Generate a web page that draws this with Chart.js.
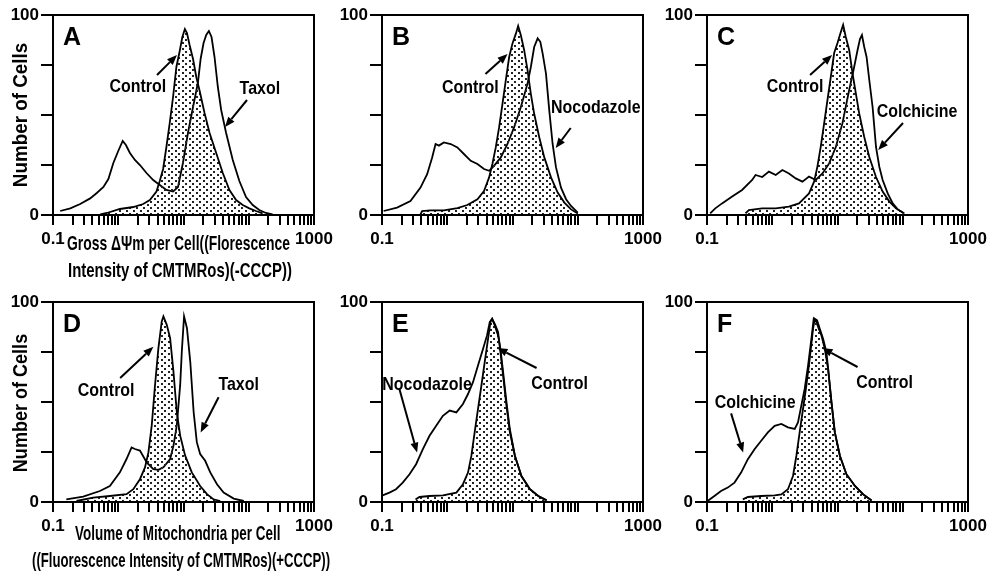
<!DOCTYPE html>
<html>
<head>
<meta charset="utf-8">
<script src="https://cdn.jsdelivr.net/npm/chart.js@4.4.1/dist/chart.umd.min.js"></script>
<style>
  body { margin: 0; background: #fff; }
  #wrap { position: relative; width: 987px; height: 578px; overflow: hidden; background: #fff; }
  canvas { position: absolute; }
  .ttl, .vttl {
    position: absolute; z-index: 2; color: #000; white-space: nowrap;
    font-family: "Liberation Sans Narrow", "Liberation Sans", Arial, sans-serif;
    font-weight: bold;
  }
  .ttl { font-size: 21px; line-height: 21px; transform-origin: 0 0; }
  .vttl { font-size: 20px; line-height: 20px; transform-origin: 50% 50%; }
</style>
</head>
<body>
<div id="wrap">
  <div class="vttl" data-cx="20" data-cy="115" data-w="144">Number of Cells</div>
  <div class="vttl" data-cx="20" data-cy="403" data-w="138">Number of Cells</div>
  <div class="ttl" data-x="67" data-y="232" data-w="223">Gross ΔΨm per Cell((Florescence</div>
  <div class="ttl" data-x="68" data-y="259" data-w="224">Intensity of CMTMRos)(-CCCP))</div>
  <div class="ttl" data-x="75" data-y="522" data-w="205">Volume of Mitochondria per Cell</div>
  <div class="ttl" data-x="32" data-y="549" data-w="298">((Fluorescence Intensity of CMTMRos)(+CCCP))</div>
</div>
<script>
const FONT = '"Liberation Sans", Arial, sans-serif';

const xTickValues = [0.1, 0.2, 0.3, 0.4, 0.5, 0.6, 0.7, 0.8, 0.9,
  1, 2, 3, 4, 5, 6, 7, 8, 9,
  10, 20, 30, 40, 50, 60, 70, 80, 90,
  100, 200, 300, 400, 500, 600, 700, 800, 900, 1000];
const xLabelValues = [0.1, 1000];
const xLabelText = ['0.1', '1000'];
const yTickValues = [0, 25, 50, 75, 100];
const yLabelValues = [0, 100];
const yLabelText = ['0', '100'];

// [fluorescence intensity, number of cells]
const controlA = [[0.53,0.3],[0.67,1],[1.06,3],[1.7,4],[2.41,5.5],[3.05,7.5],[3.85,11.7],[4.33,17],[4.87,23],[5.47,34],[6.15,46],[6.92,59],[7.78,74],[8.75,82],[9.6,89],[10.5,93],[11.3,91],[12.4,85],[14,78],[15.7,69],[17.7,62],[21,51],[25.1,41],[31.7,31],[40,21],[50.6,12.5],[64,7.5],[80.8,5],[102,3.3],[129,2],[163,0.8]];
const taxolA = [[0.129,2],[0.184,3.3],[0.261,5.5],[0.371,8.3],[0.469,11],[0.593,14],[0.706,18],[0.841,26],[1,32],[1.17,37],[1.31,35],[1.51,31],[1.8,27.5],[2.15,25],[2.71,21],[3.43,17.5],[4.33,15],[5.47,12.5],[6.92,11.7],[8.24,14],[9.8,26],[11.7,41],[14,54],[16.6,66],[18.3,78],[20.3,86],[22.3,90],[24.5,92],[26.9,89],[29.9,79],[33.6,64],[37.8,52.5],[45,41],[56.9,27.5],[71.8,17],[90.8,9],[115,5],[145,2.5],[183,1],[232,0.3]];

const controlB = [[0.389,0.3],[0.412,2],[0.555,2.3],[0.889,2.3],[1.43,3.4],[2.03,5],[2.9,7.9],[3.66,12],[4.38,18.8],[4.92,25.5],[5.54,33.8],[6.24,43.9],[7.02,55.6],[7.89,67.3],[8.89,79],[10,85.8],[11.3,90.8],[12.2,94.5],[13.4,90],[15.1,82.4],[17,72.4],[19.1,60.6],[21.5,50.6],[25.7,38.9],[30.7,28.8],[38.9,18.8],[49.2,11.2],[62.4,6.2],[78.9,2.8],[100,0.8]];
const nocodazoleB = [[0.106,2],[0.17,3.7],[0.273,7],[0.389,13.7],[0.492,20.4],[0.587,28.8],[0.662,35.5],[0.744,34.7],[0.889,36.3],[1.13,35.5],[1.43,33.8],[1.8,30.5],[2.29,27.1],[2.9,25.5],[3.66,23],[4.38,22.1],[5.22,24.6],[6.62,28.8],[8.38,35.5],[10.6,43.9],[13.4,53.9],[17,65.7],[19.1,74],[21.5,84],[24.3,88.3],[26.7,86.6],[29,80.7],[32.6,70.7],[36.6,52.3],[41.2,35.5],[46.4,23.8],[55.4,13.7],[66.2,7.9],[78.9,4.5],[100,1.2]];

const controlC = [[0.389,0.8],[0.438,2.5],[0.702,3.3],[1.13,3.3],[1.8,4.2],[2.57,5.8],[3.66,10.8],[4.38,16.7],[4.92,24.2],[5.54,34.2],[6.24,45.8],[7.02,57.5],[7.89,69],[8.89,81],[10,86],[11.3,91.7],[12.2,95],[13.4,89],[15.1,82.5],[17,70.8],[19.1,60.8],[21.5,50.8],[25.7,39],[30.7,29],[38.9,19],[49.2,11.7],[62.4,6.7],[78.9,3.3],[100,1.2]];
const colchicineC = [[0.112,0.8],[0.134,3.3],[0.17,5.8],[0.243,9.2],[0.345,12.5],[0.492,17.5],[0.555,20],[0.702,19],[0.889,21.7],[1.13,20],[1.43,22.5],[1.8,20.8],[2.29,18.3],[2.9,16.7],[3.66,19.2],[4.64,17.5],[5.88,20.8],[7.45,25.8],[9.42,34],[11.9,45.8],[15.1,62.5],[18,74],[20.3,82.5],[22.1,88],[23.7,90],[25.7,84],[27.9,79],[30.7,67.5],[34.5,54],[38.9,34],[43.8,24],[49.2,17.5],[58.8,10.8],[70.2,5.8],[83.8,2.8],[106,0.8]];

const controlD = [[0.229,0.5],[0.412,2.2],[0.744,3],[1.34,3.9],[1.7,6.4],[2.15,11.4],[2.57,17.3],[2.9,24.8],[3.26,38.3],[3.66,58.4],[4.12,76.8],[4.64,90.3],[4.92,92.8],[5.54,88.6],[6.24,81.9],[7.02,65.1],[7.89,45],[8.89,33.2],[10.6,23.2],[13.4,14.8],[18,8],[22.9,3.9],[29,1.3],[36.6,0.5]];
const taxolD = [[0.16,1.3],[0.29,2.7],[0.523,5.5],[0.744,8],[1.06,14.8],[1.34,21.5],[1.6,27.3],[1.8,26.5],[2.15,25.7],[2.73,19.8],[3.45,16.4],[4.12,16.1],[4.92,17.3],[6.24,21.5],[7.02,28.2],[7.89,38.3],[8.89,58.4],[9.42,75.2],[10.2,92.8],[11.3,86.9],[12.7,70.1],[14.3,45],[16,29.9],[18,24],[21.5,20.6],[25.7,14.8],[32.6,8.9],[41.2,4.7],[58.8,1.7],[83.8,0.5]];

const controlE = [[0.326,1.3],[0.375,2.5],[0.535,3],[0.857,3.3],[1.38,4.7],[1.74,8.9],[2.08,14.7],[2.34,23],[2.63,34.8],[2.96,46.5],[3.33,58],[3.75,70],[4.22,81.6],[4.59,90],[4.87,91.6],[5.35,88.3],[6.01,83.3],[6.53,76.6],[7.18,65],[8.09,49.8],[9.1,36.5],[10.9,23],[13.7,13],[18.5,6.4],[24.8,3],[33.3,0.8]];
const nocodazoleE = [[0.102,3.3],[0.13,4.7],[0.164,6.4],[0.208,9.7],[0.264,13.9],[0.333,18.9],[0.423,26.4],[0.535,33.1],[0.677,38.1],[0.857,43.1],[1.09,45.7],[1.38,44.8],[1.74,49],[2.08,54],[2.48,59.9],[2.96,68.2],[3.54,76.6],[4.07,83.3],[4.48,90],[4.87,91.6],[5.35,89],[6.01,85],[6.53,75],[7.18,63],[8.09,48],[9.1,35],[10.9,23],[13.7,13],[18.5,6.4],[24.8,3],[33.3,0.8]];

const controlF = [[0.354,1.3],[0.423,2.5],[0.677,3],[1.09,3.3],[1.38,3.8],[1.74,6.4],[2.08,13],[2.34,23],[2.63,34.8],[2.96,46.5],[3.33,58.2],[3.75,71.6],[4.22,86.6],[4.48,91.6],[4.87,90.8],[5.35,86.6],[6.01,81.6],[6.77,74.9],[7.36,63.2],[8.09,49.8],[9.1,34.8],[10.9,23],[13.7,13.9],[18.5,8],[24.8,3.8],[33.3,0.8]];
const colchicineF = [[0.102,0.5],[0.13,3],[0.164,5.5],[0.208,7.2],[0.264,9.7],[0.333,14.7],[0.423,21.4],[0.535,26.4],[0.677,30.6],[0.857,34.8],[1.09,38.1],[1.38,39],[1.74,37.3],[2.21,36.5],[2.48,39.8],[2.79,48.2],[3.14,56.5],[3.54,68.2],[3.98,81.6],[4.32,91.6],[4.75,90],[5.16,86.6],[5.67,83.3],[6.38,76.6],[7.18,66.6],[8.09,49.8],[9.1,34.8],[10.9,23],[13.7,13.9],[18.5,8],[24.8,3.8],[33.3,0.8]];

// labels with arrows, in data units: text centre, arrow tail, arrow head
const notesA = [
  { text: 'Control', at: [2.0, 64], from: [3.93, 70], to: [7.94, 80] },
  { text: 'Taxol', at: [148, 63], from: [94, 57.5], to: [43.3, 44] }
];
const notesB = [
  { text: 'Control', at: [2.26, 63.5], from: [3.85, 70.5], to: [8.4, 80.5] },
  { text: 'Nocodazole', at: [189, 53.5], from: [78, 43.5], to: [45.9, 33.5] }
];
const notesC = [
  { text: 'Control', at: [2.24, 64], from: [3.8, 70], to: [8.26, 80] },
  { text: 'Colchicine', at: [166, 51.5], from: [101, 46], to: [42, 32.5] }
];
const notesD = [
  { text: 'Control', at: [0.653, 55.4], from: [1.07, 62], to: [3.45, 77.6] },
  { text: 'Taxol', at: [70, 58.4], from: [34.5, 52.4], to: [18.3, 34.8] }
];
const notesE = [
  { text: 'Nocodazole', at: [0.49, 58.4], from: [0.183, 57], to: [0.345, 24.7] },
  { text: 'Control', at: [52.8, 59], from: [23.4, 67], to: [5.88, 77] }
];
const notesF = [
  { text: 'Colchicine', at: [0.547, 49.4], from: [0.234, 44.3], to: [0.358, 24.7] },
  { text: 'Control', at: [52.6, 59.5], from: [20.3, 67.5], to: [5.88, 77] }
];

const panels = [
  { letter: 'A', left: 0, top: 0, control: controlA, treated: taxolA, name: 'Taxol', notes: notesA },
  { letter: 'B', left: 329, top: 0, control: controlB, treated: nocodazoleB, name: 'Nocodazole', notes: notesB },
  { letter: 'C', left: 654, top: 0, control: controlC, treated: colchicineC, name: 'Colchicine', notes: notesC },
  { letter: 'D', left: 0, top: 287, control: controlD, treated: taxolD, name: 'Taxol', notes: notesD },
  { letter: 'E', left: 329, top: 287, control: controlE, treated: nocodazoleE, name: 'Nocodazole', notes: notesE },
  { letter: 'F', left: 654, top: 287, control: controlF, treated: colchicineF, name: 'Colchicine', notes: notesF }
];

function dotPattern(ctx) {
  const c = document.createElement('canvas');
  c.width = 7; c.height = 6;
  const g = c.getContext('2d');
  g.fillStyle = '#222';
  g.fillRect(0, 0, 2, 2);
  g.fillRect(3, 3, 2, 2);
  return ctx.createPattern(c, 'repeat');
}

function extras(p) {
  return {
    id: 'extras' + p.letter,
    afterDraw(chart) {
      const { ctx, chartArea: a, scales: { x, y } } = chart;
      ctx.save();
      ctx.strokeStyle = '#000';
      ctx.lineWidth = 2;
      ctx.strokeRect(a.left, a.top, a.right - a.left, a.bottom - a.top);

      ctx.fillStyle = '#000';
      ctx.font = 'bold 25px ' + FONT;
      ctx.textAlign = 'left';
      ctx.textBaseline = 'alphabetic';
      ctx.fillText(p.letter, a.left + 10, a.top + 30);

      ctx.font = 'bold 19px ' + FONT;
      ctx.textAlign = 'center';
      ctx.textBaseline = 'middle';
      p.notes.forEach(n => {
        ctx.save();
        ctx.translate(x.getPixelForValue(n.at[0]), y.getPixelForValue(n.at[1]));
        ctx.scale(0.84, 1);
        ctx.fillText(n.text, 0, 0);
        ctx.restore();
        const x0 = x.getPixelForValue(n.from[0]), y0 = y.getPixelForValue(n.from[1]);
        const x1 = x.getPixelForValue(n.to[0]), y1 = y.getPixelForValue(n.to[1]);
        const ang = Math.atan2(y1 - y0, x1 - x0);
        const c = Math.cos(ang), s = Math.sin(ang);
        const bx = x1 - 10 * c, by = y1 - 10 * s;
        ctx.beginPath();
        ctx.moveTo(x0, y0);
        ctx.lineTo(bx, by);
        ctx.stroke();
        ctx.beginPath();
        ctx.moveTo(x1, y1);
        ctx.lineTo(bx - 4 * s, by + 4 * c);
        ctx.lineTo(bx + 4 * s, by - 4 * c);
        ctx.closePath();
        ctx.fill();
      });
      ctx.restore();
    }
  };
}

const wrap = document.getElementById('wrap');
const toXY = arr => arr.map(([x, y]) => ({ x, y }));

panels.forEach(p => {
  const cv = document.createElement('canvas');
  cv.width = 334;
  cv.height = 250;
  cv.style.left = p.left + 'px';
  cv.style.top = p.top + 'px';
  wrap.appendChild(cv);
  const ctx = cv.getContext('2d');

  new Chart(ctx, {
    type: 'line',
    data: {
      datasets: [
        {
          label: 'Control',
          data: toXY(p.control),
          borderColor: '#000',
          borderWidth: 1.8,
          backgroundColor: dotPattern(ctx),
          fill: 'origin',
          pointRadius: 0,
          tension: 0
        },
        {
          label: p.name,
          data: toXY(p.treated),
          borderColor: '#000',
          borderWidth: 1.8,
          fill: false,
          pointRadius: 0,
          tension: 0
        }
      ]
    },
    options: {
      responsive: false,
      animation: false,
      devicePixelRatio: 1,
      layout: { padding: { top: 15, right: 20, bottom: 0, left: 0 } },
      plugins: { legend: { display: false }, tooltip: { enabled: false } },
      scales: {
        x: {
          type: 'logarithmic',
          min: 0.1,
          max: 1000,
          afterBuildTicks: s => { s.ticks = xTickValues.map(v => ({ value: v })); },
          afterFit: s => { s.height = 35; s.paddingLeft = 0; s.paddingRight = 0; },
          ticks: {
            autoSkip: false,
            maxRotation: 0,
            padding: 4,
            color: '#000',
            font: { family: FONT, size: 17, weight: 'bold' },
            callback: v => {
              const i = xLabelValues.indexOf(v);
              return i >= 0 ? xLabelText[i] : '';
            }
          },
          grid: { drawOnChartArea: false, tickLength: 10, color: '#000', lineWidth: 2 },
          border: { color: '#000', width: 2 }
        },
        y: {
          min: 0,
          max: 100,
          afterBuildTicks: s => { s.ticks = yTickValues.map(v => ({ value: v })); },
          afterFit: s => { s.width = 53; s.paddingTop = 0; s.paddingBottom = 0; },
          ticks: {
            padding: 2,
            color: '#000',
            font: { family: FONT, size: 17, weight: 'bold' },
            callback: v => {
              const i = yLabelValues.indexOf(v);
              return i >= 0 ? yLabelText[i] : '';
            }
          },
          grid: { drawOnChartArea: false, tickLength: 12, color: '#000', lineWidth: 2 },
          border: { color: '#000', width: 2 }
        }
      }
    },
    plugins: [extras(p)]
  });
});

document.querySelectorAll('.ttl').forEach(el => {
  const s = el.dataset.w / el.offsetWidth;
  el.style.left = el.dataset.x + 'px';
  el.style.top = el.dataset.y + 'px';
  el.style.transform = 'scaleX(' + s.toFixed(3) + ')';
});
document.querySelectorAll('.vttl').forEach(el => {
  const s = el.dataset.w / el.offsetWidth;
  el.style.left = el.dataset.cx + 'px';
  el.style.top = el.dataset.cy + 'px';
  el.style.transform = 'translate(-50%, -50%) rotate(-90deg) scaleX(' + s.toFixed(3) + ')';
});
</script>
</body>
</html>
